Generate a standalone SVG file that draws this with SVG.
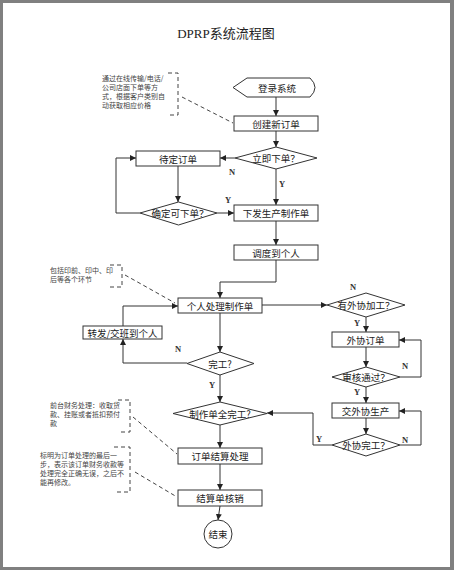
<svg xmlns="http://www.w3.org/2000/svg" width="454" height="570" viewBox="0 0 454 570">
<defs>
<marker id="ah" markerWidth="6" markerHeight="6" refX="6" refY="3" orient="auto" markerUnits="userSpaceOnUse">
<path d="M0,0 L6,3 L0,6 Z" fill="#222"/>
</marker>
<style>
.box{fill:#fff;stroke:#333;stroke-width:1}
.ln{fill:none;stroke:#333;stroke-width:1}
.dash{fill:none;stroke:#444;stroke-width:1;stroke-dasharray:4,3}
.t{font-family:"Noto Sans CJK SC",sans-serif;font-size:9.5px;fill:#222;text-anchor:middle;dominant-baseline:central}
.note{font-family:"Noto Sans CJK SC",sans-serif;font-size:7px;fill:#444}
.yn{font-family:"Liberation Serif",serif;font-size:8.5px;font-weight:bold;fill:#333;text-anchor:middle}
.title{font-family:"Liberation Serif","Noto Sans CJK SC",serif;font-size:13px;fill:#222;text-anchor:middle}
</style>
</defs>
<rect x="0" y="0" width="454" height="570" fill="#808080"/>
<rect x="3" y="3" width="447" height="564" fill="#fff"/>
<text class="title" x="226" y="38">DPRP系统流程图</text>

<g id="connectors">
<line class="ln" x1="276" y1="97" x2="276" y2="116" marker-end="url(#ah)"/>
<line class="ln" x1="276" y1="131" x2="276" y2="147" marker-end="url(#ah)"/>
<line class="ln" x1="235" y1="158" x2="220" y2="158" marker-end="url(#ah)"/>
<line class="ln" x1="178" y1="166" x2="178" y2="202" marker-end="url(#ah)"/>
<polyline class="ln" points="140,213 116,213 116,158 136,158" marker-end="url(#ah)"/>
<line class="ln" x1="217" y1="213" x2="234" y2="213" marker-end="url(#ah)"/>
<line class="ln" x1="276" y1="169" x2="276" y2="205" marker-end="url(#ah)"/>
<line class="ln" x1="276" y1="221" x2="276" y2="245" marker-end="url(#ah)"/>
<polyline class="ln" points="276,260 276,282 220,282 220,298" marker-end="url(#ah)"/>
<line class="ln" x1="262" y1="305" x2="327" y2="305" marker-end="url(#ah)"/>
<line class="ln" x1="366" y1="317" x2="366" y2="332" marker-end="url(#ah)"/>
<line class="ln" x1="366" y1="347" x2="366" y2="367" marker-end="url(#ah)"/>
<polyline class="ln" points="400,377 421,377 421,340 399,340" marker-end="url(#ah)"/>
<line class="ln" x1="366" y1="387" x2="366" y2="403" marker-end="url(#ah)"/>
<line class="ln" x1="366" y1="418" x2="366" y2="434" marker-end="url(#ah)"/>
<polyline class="ln" points="400,445 421,445 421,411 399,411" marker-end="url(#ah)"/>
<polyline class="ln" points="332,445 313,445 313,413 267,413" marker-end="url(#ah)"/>
<line class="ln" x1="220" y1="313" x2="220" y2="352" marker-end="url(#ah)"/>
<polyline class="ln" points="187,363 123,363 123,339" marker-end="url(#ah)"/>
<polyline class="ln" points="123,326 123,306 178,306" marker-end="url(#ah)"/>
<line class="ln" x1="220" y1="375" x2="220" y2="402" marker-end="url(#ah)"/>
<line class="ln" x1="220" y1="425" x2="220" y2="448" marker-end="url(#ah)"/>
<line class="ln" x1="220" y1="464" x2="220" y2="490" marker-end="url(#ah)"/>
<line class="ln" x1="220" y1="506" x2="218" y2="520" marker-end="url(#ah)"/>
<line class="dash" x1="182" y1="97" x2="233" y2="123"/>
<line class="dash" x1="125" y1="275" x2="175" y2="303"/>
<line class="dash" x1="133" y1="417" x2="177" y2="454"/>
<line class="dash" x1="135" y1="472" x2="177" y2="497"/>
<text class="yn" x="232" y="175">N</text>
<text class="yn" x="282" y="187">Y</text>
<text class="yn" x="228" y="203">Y</text>
<text class="yn" x="353" y="290">N</text>
<text class="yn" x="357" y="326">Y</text>
<text class="yn" x="405" y="369">N</text>
<text class="yn" x="357" y="395">Y</text>
<text class="yn" x="405" y="443">N</text>
<text class="yn" x="319" y="442">Y</text>
<text class="yn" x="178" y="352">N</text>
<text class="yn" x="212" y="388">Y</text>
</g>

<g id="n-login"><path class="box" d="M233,87.5 L247,78 L310,78 Q320,87.5 310,97 L247,97 Z"/><text class="t" x="277" y="87.5">登录系统</text></g>
<g id="n-create"><rect class="box" x="234" y="116" width="84" height="15"/><text class="t" x="276" y="123.5">创建新订单</text></g>
<g id="n-now"><polygon class="box" points="276,147 317,158 276,169 235,158"/><text class="t" x="276" y="158">立即下单？</text></g>
<g id="n-pending"><rect class="box" x="136" y="151" width="84" height="15"/><text class="t" x="178" y="158.5">待定订单</text></g>
<g id="n-confirm"><polygon class="box" points="178.5,202 217,213 178.5,225 140,213"/><text class="t" x="180" y="213">确定可下单？</text></g>
<g id="n-issue"><rect class="box" x="234" y="205" width="84" height="16"/><text class="t" x="276" y="213">下发生产制作单</text></g>
<g id="n-dispatch"><rect class="box" x="234" y="245" width="84" height="15"/><text class="t" x="276" y="252.5">调度到个人</text></g>
<g id="n-personal"><rect class="box" x="178" y="298" width="84" height="15"/><text class="t" x="220" y="305.5">个人处理制作单</text></g>
<g id="n-forward"><rect class="box" x="83" y="326" width="79" height="13"/><text class="t" x="122.5" y="332.5">转发/交班到个人</text></g>
<g id="n-done"><polygon class="box" points="220,352 254,363.5 220,375 187,363.5"/><text class="t" x="220" y="363.5">完工?</text></g>
<g id="n-outsrc"><polygon class="box" points="366,293 405,305 366,317 327,305"/><text class="t" x="366" y="305">有外协加工？</text></g>
<g id="n-outorder"><rect class="box" x="332" y="332" width="67" height="15"/><text class="t" x="365.5" y="339.5">外协订单</text></g>
<g id="n-audit"><polygon class="box" points="366,367 400,377 366,387 332,377"/><text class="t" x="366" y="377">审核通过？</text></g>
<g id="n-outprod"><rect class="box" x="332" y="403" width="67" height="15"/><text class="t" x="365.5" y="410.5">交外协生产</text></g>
<g id="n-outdone"><polygon class="box" points="366,434 400,445 366,456 332,445"/><text class="t" x="366" y="445">外协完工？</text></g>
<g id="n-alldone"><polygon class="box" points="220,402 267,413.5 220,425 173,413.5"/><text class="t" x="220" y="413.5">制作单全完工?</text></g>
<g id="n-settle"><rect class="box" x="178" y="448" width="84" height="16"/><text class="t" x="220" y="456">订单结算处理</text></g>
<g id="n-verify"><rect class="box" x="178" y="490" width="84" height="16"/><text class="t" x="220" y="498">结算单核销</text></g>
<g id="n-end"><circle class="box" cx="218" cy="534" r="14"/><text class="t" x="218" y="534">结束</text></g>

<g id="note1">
<polyline class="dash" points="168,73 178,73 178,115 168,115"/>
<text class="note" x="102" y="81">通过在线传输/电话/</text>
<text class="note" x="102" y="90">公司店面下单等方</text>
<text class="note" x="102" y="99">式，根据客户类别自</text>
<text class="note" x="102" y="108">动获取相应价格</text>
</g>
<g id="note2">
<polyline class="dash" points="110,265 122,265 122,287 110,287"/>
<text class="note" x="50" y="273">包括印前、印中、印</text>
<text class="note" x="50" y="282">后等各个环节</text>
</g>
<g id="note3">
<polyline class="dash" points="118,400 130,400 130,432 118,432"/>
<text class="note" x="50" y="408">前台财务处理：收取货</text>
<text class="note" x="50" y="417">款、挂账或者抵扣预付</text>
<text class="note" x="50" y="426">款</text>
</g>
<g id="note4">
<polyline class="dash" points="114,447 130,447 130,492 114,492"/>
<text class="note" x="40" y="458">标明为订单处理的最后一</text>
<text class="note" x="40" y="467">步，表示该订单财务收款等</text>
<text class="note" x="40" y="476">处理完全正确无误，之后不</text>
<text class="note" x="40" y="485">能再修改。</text>
</g>
</svg>
